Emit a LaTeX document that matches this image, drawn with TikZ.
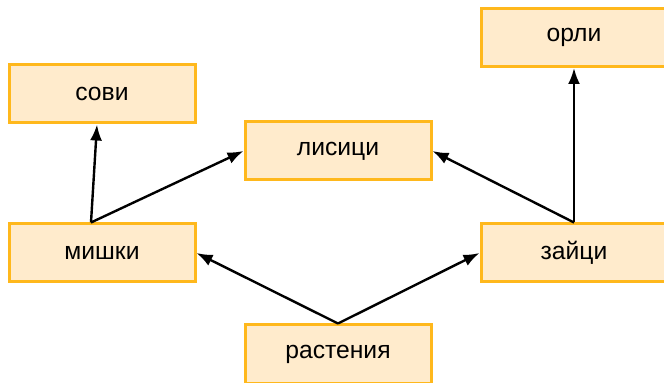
\documentclass[tikz,border=0pt]{standalone}
\usepackage{fontspec}
\setmainfont[Script=Cyrillic,Language=Bulgarian]{Liberation Sans}
\usepackage{tikz}
\usetikzlibrary{shapes,arrows,arrows.meta,positioning,fit}

\definecolor{boxfill}{RGB}{255,235,204}
\definecolor{boxline}{RGB}{255,184,28}

\begin{document}
\begin{tikzpicture}[x=0.75pt,y=0.75pt]
		\tikzstyle{Animal} 	= [rectangle, draw=boxline, line width=2.25pt, fill=boxfill, minimum width=139.5pt, minimum height=43.5pt, inner sep=0pt, font=\fontsize{18.5}{22}\selectfont]
		\tikzstyle{Eats}	= [-{Latex[length=12pt,width=9pt]}, line width=1.8pt, black]

		\useasboundingbox (0,0) rectangle (664,382);

		\node (sovi) at (102, 288) [Animal] {сови};
		\node (orli) at (574, 344.5) [Animal] {орли};
		\node (lisici) at (338, 231) [Animal] {лисици};
		\node (mishki) at (102, 129) [Animal] {мишки};
		\node (zaici) at (574, 129) [Animal] {зайци};
		\node (rastenia) at (338, 28) [Animal] {растения};

		\draw [Eats] (rastenia.north) to (mishki.east);
		\draw [Eats] (rastenia.north) to (zaici.west);
		\draw [Eats] ([xshift=-8.25pt]mishki.north) to ([xshift=-3.75pt]sovi.south);
		\draw [Eats] ([xshift=-8.25pt]mishki.north) to (lisici.west);
		\draw [Eats] (zaici.north) to (lisici.east);
		\draw [Eats] (zaici.north) to (orli.south);
	\end{tikzpicture}
\end{document}
